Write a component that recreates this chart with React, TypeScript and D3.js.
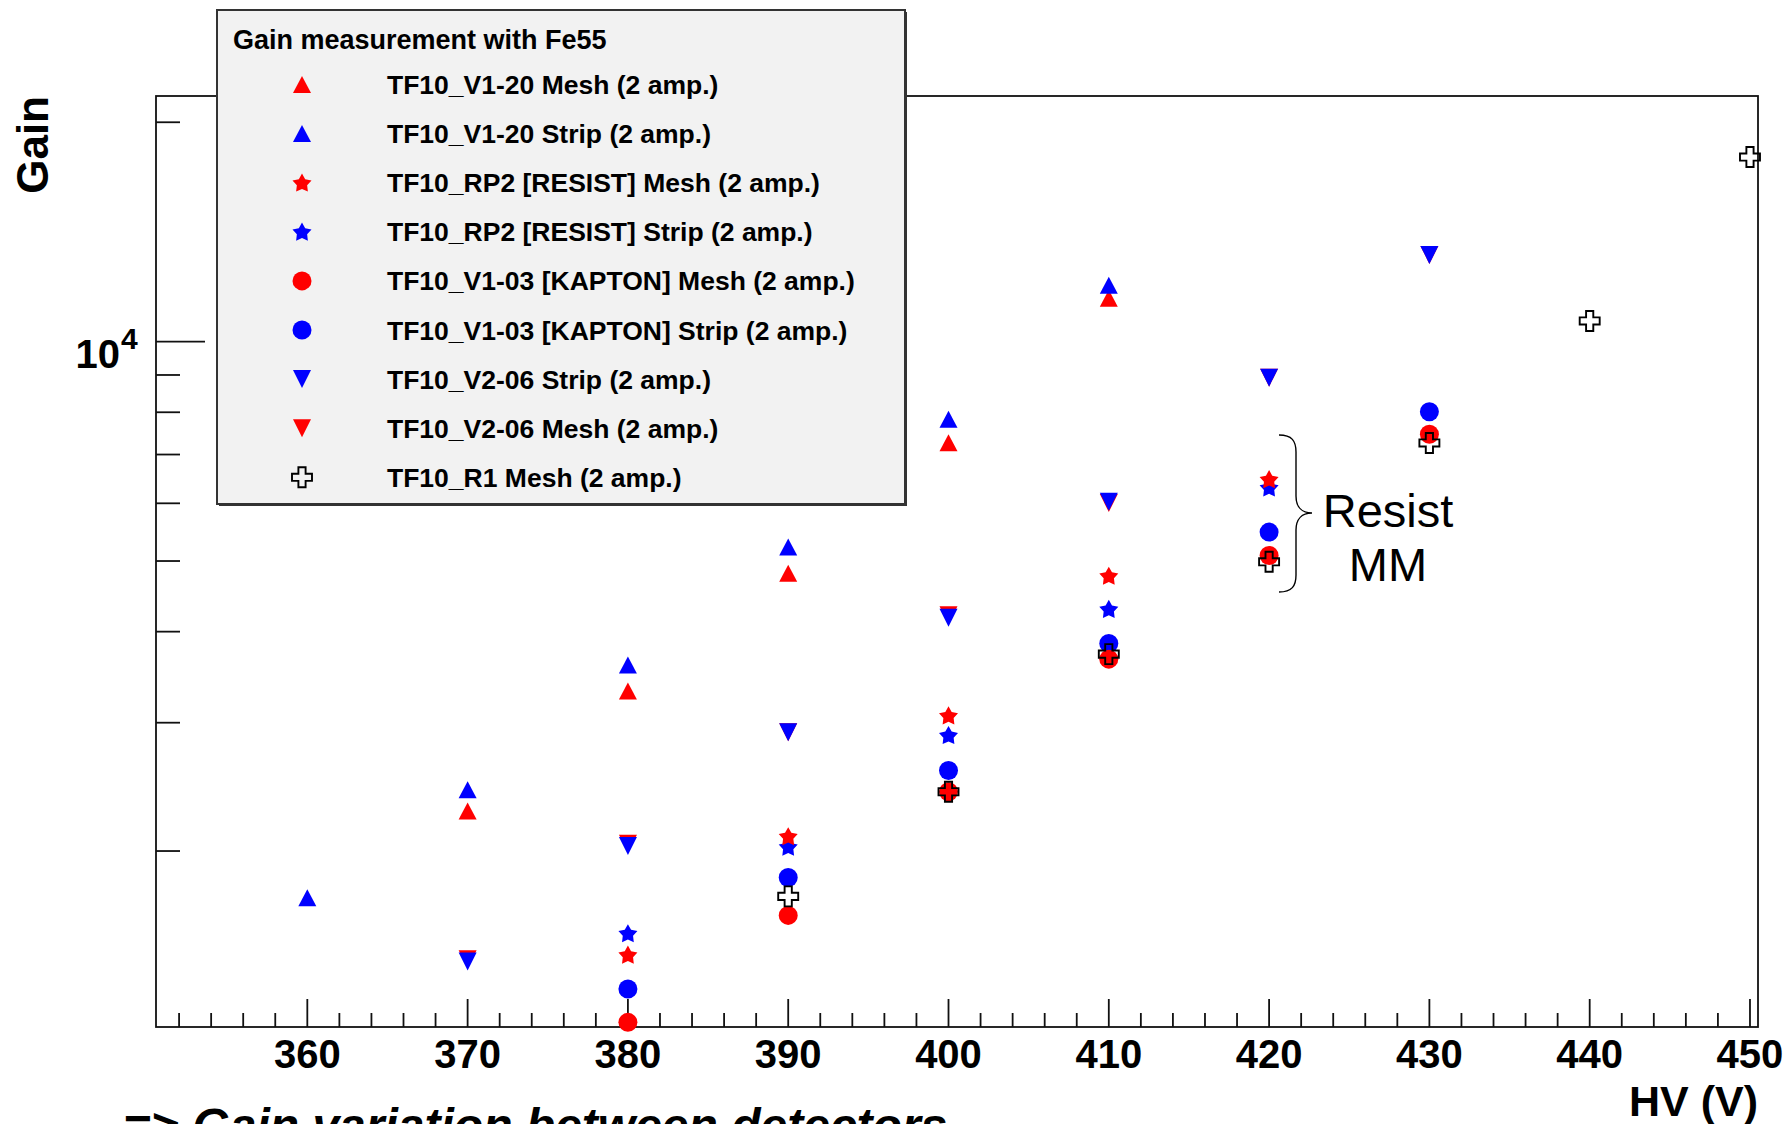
import React from "react";
import * as d3 from "d3";

const W = 1791;
const H = 1124;

// ---- data ----
const hvTicks = [360, 370, 380, 390, 400, 410, 420, 430, 440, 450];

const v120MeshX = [370, 380, 390, 400, 410];
const v120MeshY = [2269, 3315, 4810, 7267, 11473];

const v120StripX = [360, 370, 380, 390, 400, 410];
const v120StripY = [1726, 2427, 3601, 5228, 7826, 11953];

const rp2MeshX = [380, 390, 400, 410, 420];
const rp2MeshY = [1441, 2095, 3069, 4771, 6474];

const rp2StripX = [380, 390, 400, 410, 420];
const rp2StripY = [1542, 2027, 2884, 4296, 6305];

const v103MeshX = [380, 390, 400, 410, 420, 430];
const v103MeshY = [1164, 1632, 2412, 3667, 5089, 7462];

const v103StripX = [380, 390, 400, 410, 420, 430];
const v103StripY = [1293, 1839, 2580, 3854, 5478, 8011];

const v206StripX = [370, 380, 390, 400, 410, 420, 430];
const v206StripY = [1411, 2032, 2911, 4181, 6029, 8925, 13152];

const v206MeshX = [370, 380, 390, 400, 410, 420, 430];
const v206MeshY = [1421, 2047, 2911, 4214, 6005, 8925, 13152];

const r1MeshX = [390, 400, 410, 420, 430, 440, 450];
const r1MeshY = [1733, 2412, 3726, 4988, 7261, 10676, 17917];

const legendTitle = "Gain measurement with Fe55";
const legendLabels = [
  "TF10_V1-20 Mesh (2 amp.)",
  "TF10_V1-20 Strip (2 amp.)",
  "TF10_RP2 [RESIST] Mesh (2 amp.)",
  "TF10_RP2 [RESIST] Strip (2 amp.)",
  "TF10_V1-03 [KAPTON] Mesh (2 amp.)",
  "TF10_V1-03 [KAPTON] Strip (2 amp.)",
  "TF10_V2-06 Strip (2 amp.)",
  "TF10_V2-06 Mesh (2 amp.)",
  "TF10_R1 Mesh (2 amp.)",
];

type Shape = "up" | "down" | "star" | "circle" | "cross";

const seriesDefs: { key: string; xs: number[]; ys: number[]; shape: Shape; color: string; legendIdx: number }[] = [
  { key: "v120Mesh", xs: v120MeshX, ys: v120MeshY, shape: "up", color: "#ff0000", legendIdx: 0 },
  { key: "v120Strip", xs: v120StripX, ys: v120StripY, shape: "up", color: "#0000ff", legendIdx: 1 },
  { key: "rp2Strip", xs: rp2StripX, ys: rp2StripY, shape: "star", color: "#0000ff", legendIdx: 3 },
  { key: "rp2Mesh", xs: rp2MeshX, ys: rp2MeshY, shape: "star", color: "#ff0000", legendIdx: 2 },
  { key: "v103Strip", xs: v103StripX, ys: v103StripY, shape: "circle", color: "#0000ff", legendIdx: 5 },
  { key: "v103Mesh", xs: v103MeshX, ys: v103MeshY, shape: "circle", color: "#ff0000", legendIdx: 4 },
  { key: "v206Mesh", xs: v206MeshX, ys: v206MeshY, shape: "down", color: "#ff0000", legendIdx: 7 },
  { key: "v206Strip", xs: v206StripX, ys: v206StripY, shape: "down", color: "#0000ff", legendIdx: 6 },
  { key: "r1Mesh", xs: r1MeshX, ys: r1MeshY, shape: "cross", color: "#000000", legendIdx: 8 },
];

// ---- layout ----
const frame = { left: 156, right: 1758, top: 96, bottom: 1027 };
const FONT = "'Liberation Sans', Arial, Helvetica, sans-serif";

const x = d3.scaleLinear().domain([350.56, 450.5]).range([frame.left, frame.right]);
const y = d3.scaleLog().domain([1147, 21730]).range([frame.bottom, frame.top]);

function starPath(R: number, r: number) {
  const pts: string[] = [];
  for (let i = 0; i < 10; i++) {
    const a = -Math.PI / 2 + (i * Math.PI) / 5;
    const rad = i % 2 === 0 ? R : r;
    pts.push(`${(rad * Math.cos(a)).toFixed(2)},${(rad * Math.sin(a) + 0.8).toFixed(2)}`);
  }
  return "M" + pts.join("L") + "Z";
}

function crossPath(a: number, L: number) {
  return `M${-a},${-L}H${a}V${-a}H${L}V${a}H${a}V${L}H${-a}V${a}H${-L}V${-a}H${-a}Z`;
}

function Marker({ shape, color, cx, cy }: { shape: Shape; color: string; cx: number; cy: number }) {
  const t = `translate(${cx},${cy})`;
  if (shape === "up") return <path transform={t} d="M0,-8.5L9,8.5L-9,8.5Z" fill={color} />;
  if (shape === "down") return <path transform={t} d="M0,9L9,-9L-9,-9Z" fill={color} />;
  if (shape === "star") return <path transform={t} d={starPath(10, 5.4)} fill={color} />;
  if (shape === "circle") return <circle cx={cx} cy={cy} r={9.5} fill={color} />;
  return <path transform={t} d={crossPath(3.6, 10)} fill="none" stroke="#000" strokeWidth={1.9} />;
}

export default function App() {
  const xMinor = d3.range(352, 451, 2).filter((v) => v % 10 !== 0);
  const yTicks = y.ticks();
  const isDecade = (v: number) => Math.abs(Math.log10(v) - Math.round(Math.log10(v))) < 1e-9;

  const legendX = 217;
  const legendY = 10;
  const legendW = 688;
  const legendH = 494;
  const rowBase0 = 94;
  const rowStep = 49.1;

  return (
    <svg
      width={W}
      height={H}
      style={{ position: "absolute", left: 0, top: 0, background: "#fff" }}
      fontFamily={FONT}
    >
      <rect x={0} y={0} width={W} height={H} fill="#fff" />

      {/* frame */}
      <rect
        x={frame.left}
        y={frame.top}
        width={frame.right - frame.left}
        height={frame.bottom - frame.top}
        fill="none"
        stroke="#111"
        strokeWidth={1.8}
      />

      {/* x ticks */}
      {hvTicks.map((v) => (
        <line key={"xM" + v} x1={x(v)} x2={x(v)} y1={frame.bottom} y2={frame.bottom - 28} stroke="#111" strokeWidth={1.8} />
      ))}
      {xMinor.map((v) => (
        <line key={"xm" + v} x1={x(v)} x2={x(v)} y1={frame.bottom} y2={frame.bottom - 14} stroke="#111" strokeWidth={1.8} />
      ))}
      {hvTicks.map((v) => (
        <text key={"xl" + v} x={x(v)} y={1068} fontSize={40} fontWeight="bold" textAnchor="middle" fill="#000">
          {v}
        </text>
      ))}

      {/* y ticks */}
      {yTicks.map((v) => (
        <line
          key={"y" + v}
          x1={frame.left}
          x2={frame.left + (isDecade(v) ? 49 : 24)}
          y1={y(v)}
          y2={y(v)}
          stroke="#111"
          strokeWidth={1.8}
        />
      ))}
      {yTicks.filter(isDecade).map((v) => (
        <g key={"yl" + v}>
          <text x={120} y={y(v) + 26} fontSize={40} fontWeight="bold" textAnchor="end" fill="#000">
            10
          </text>
          <text x={121} y={y(v) + 7} fontSize={30} fontWeight="bold" fill="#000">
            {Math.round(Math.log10(v))}
          </text>
        </g>
      ))}

      {/* axis titles */}
      <text
        transform={`translate(48,${frame.top}) rotate(-90)`}
        fontSize={44}
        fontWeight="bold"
        textAnchor="end"
        fill="#000"
      >
        Gain
      </text>
      <text x={frame.right} y={1116} fontSize={43} fontWeight="bold" textAnchor="end" fill="#000">
        HV (V)
      </text>

      {/* data points */}
      {seriesDefs.map((s) => (
        <g key={s.key}>
          {s.xs.map((xv, i) => (
            <Marker key={i} shape={s.shape} color={s.color} cx={x(xv)} cy={y(s.ys[i])} />
          ))}
        </g>
      ))}

      {/* legend */}
      <rect x={legendX + 2} y={legendY + 2} width={legendW} height={legendH} fill="#333" />
      <rect x={legendX} y={legendY} width={legendW} height={legendH} fill="#f2f2f2" stroke="#333" strokeWidth={2} />
      <text x={233} y={49} fontSize={27} fontWeight="bold" fill="#000">
        {legendTitle}
      </text>
      {legendLabels.map((lab, i) => {
        const s = seriesDefs.find((d) => d.legendIdx === i)!;
        const base = rowBase0 + i * rowStep;
        return (
          <g key={"lg" + i}>
            <Marker shape={s.shape} color={s.color} cx={302} cy={base - 9.5} />
            <text x={387} y={base} fontSize={26.5} fontWeight="bold" fill="#000">
              {lab}
            </text>
          </g>
        );
      })}

      {/* annotation brace */}
      <path
        d="M1279,435 C1292,435 1296,441 1296,452 L1296,496 C1296,507 1302,513 1312,513 C1302,513 1296,519 1296,530 L1296,575 C1296,586 1292,592 1279,592"
        fill="none"
        stroke="#000"
        strokeWidth={1.4}
      />
      <text x={1388} y={527} fontSize={47} textAnchor="middle" fill="#000">
        Resist
      </text>
      <text x={1388} y={581} fontSize={47} textAnchor="middle" fill="#000">
        MM
      </text>

      {/* bottom comment (cut at the page edge, as in the reference) */}
      <text x={123} y={1142} fontSize={48} fontWeight="bold" fontStyle="italic" fill="#000">
        =&gt; Gain variation between detectors
      </text>
    </svg>
  );
}
